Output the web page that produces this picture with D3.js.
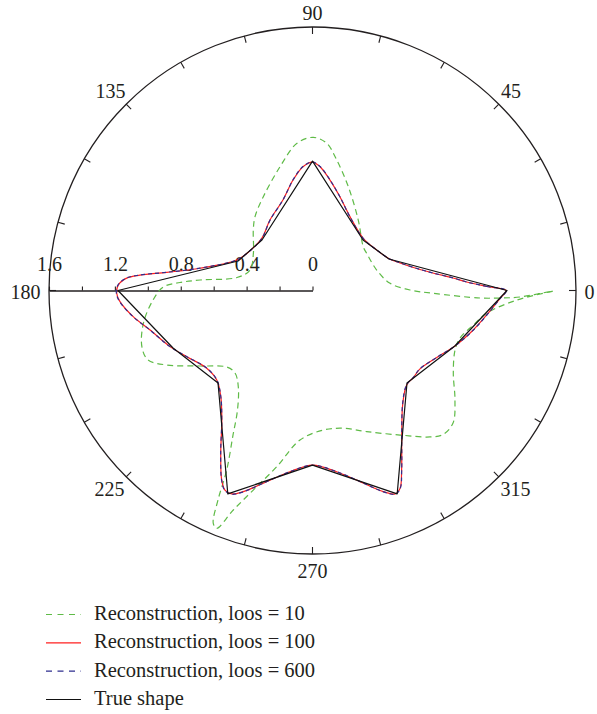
<!DOCTYPE html>
<html>
<head>
<meta charset="utf-8">
<script src="https://cdn.jsdelivr.net/npm/d3@7"></script>
<style>
  html, body { margin: 0; padding: 0; background: #fff; }
  svg { display: block; }
  text { font-family: "Liberation Serif", "DejaVu Serif", serif; fill: #231f20; }
</style>
</head>
<body>
<svg id="chart" width="597" height="714"></svg>
<script>
// ---------- data ----------
const angleTicks = d3.range(0, 360, 15);
const angleLabels = [0, 45, 90, 135, 180, 225, 270, 315];
const radialTicks = [0, 0.2, 0.4, 0.6, 0.8, 1.0, 1.2, 1.4, 1.6];
const radialLabels = [0, 0.4, 0.8, 1.2, 1.6];
const radialMax = 1.6;

const legendLabels = [
  "Reconstruction, loos = 10",
  "Reconstruction, loos = 100",
  "Reconstruction, loos = 600",
  "True shape"
];

// True shape (polygon), angle in degrees, radius
const trueTheta = [0, 22.4, 45, 90, 135, 158.4, 180, 202.4, 224.4, 247.4, 270, 292.6, 315.6, 338.7];
const trueR     = [1.181, 0.502, 0.434, 0.786, 0.434, 0.486, 1.181, 0.916, 0.803, 1.338, 1.060, 1.338, 0.803, 0.928];

// Reconstruction, loos = 100
const rec100Theta = [0, 1.32, 3.16, 5.08, 8.26, 11.05, 17.45, 22.8, 32.9, 45.8, 63.1, 73.7, 81.0, 86.5, 90, 94.4, 100.0, 108.1, 121.1, 134.2, 148.5, 158.1, 168.8, 172.9, 174.9, 176.2, 178.4, 180.8, 183.3, 188.3, 193.7, 201.5, 207.8, 216.3, 223.1, 229.2, 235.0, 240.6, 244.4, 246.3, 248.3, 251.0, 256.5, 262.9, 270, 277.6, 284.0, 289.4, 292.1, 293.9, 296.4, 301.4, 308.7, 314.9, 319.2, 323.9, 331.7, 338.7, 346.2, 352.0, 357.6];
const rec100R     = [1.175, 1.058, 0.938, 0.857, 0.739, 0.665, 0.557, 0.502, 0.459, 0.442, 0.503, 0.593, 0.679, 0.753, 0.780, 0.754, 0.681, 0.578, 0.500, 0.442, 0.452, 0.496, 0.696, 0.892, 1.052, 1.131, 1.180, 1.189, 1.171, 1.100, 1.015, 0.930, 0.863, 0.797, 0.796, 0.852, 0.960, 1.135, 1.276, 1.323, 1.329, 1.292, 1.194, 1.109, 1.060, 1.110, 1.196, 1.295, 1.333, 1.313, 1.217, 1.040, 0.877, 0.810, 0.809, 0.808, 0.857, 0.928, 1.005, 1.068, 1.140];

// Reconstruction, loos = 600
const rec600Theta = [0, 1.32, 3.16, 5.08, 8.26, 11.05, 17.45, 22.8, 32.9, 45.8, 63.1, 73.7, 81.0, 86.5, 90, 94.4, 100.0, 108.1, 121.1, 134.2, 148.5, 158.1, 168.8, 172.9, 174.9, 176.2, 178.4, 180.8, 183.3, 188.3, 193.7, 201.5, 207.8, 216.3, 223.1, 229.2, 235.0, 240.6, 244.4, 246.3, 248.3, 251.0, 256.5, 262.9, 270, 277.6, 284.0, 289.4, 292.1, 293.9, 296.4, 301.4, 308.7, 314.9, 319.2, 323.9, 331.7, 338.7, 346.2, 352.0, 357.6];
const rec600R     = [1.177, 1.059, 0.939, 0.858, 0.740, 0.666, 0.558, 0.503, 0.459, 0.441, 0.502, 0.593, 0.680, 0.754, 0.781, 0.755, 0.682, 0.578, 0.499, 0.441, 0.452, 0.497, 0.698, 0.894, 1.054, 1.133, 1.182, 1.191, 1.173, 1.101, 1.015, 0.930, 0.862, 0.796, 0.795, 0.852, 0.961, 1.136, 1.277, 1.325, 1.331, 1.293, 1.194, 1.109, 1.061, 1.110, 1.196, 1.296, 1.335, 1.315, 1.218, 1.040, 0.876, 0.809, 0.808, 0.807, 0.857, 0.928, 1.006, 1.069, 1.141];

// Reconstruction, loos = 10 (traversal order)
const rec10Theta = [359.88, 358.2, 357.7, 357.44, 358.67, 0.29, 5.3, 17.7, 34.46, 40.77, 56.99, 70.97, 79.49, 84.49, 89.7, 96.01, 104.71, 117.68, 127.92, 134.37, 147.85, 161.84, 170.23, 174.67, 176.54, 178.66, 183.41, 190.97, 198.34, 202.9, 207.11, 213.86, 221.82, 226.79, 232.44, 237.89, 241.18, 244.45, 245.72, 246.92, 248.06, 250.16, 253.47, 258.52, 265.22, 274.43, 282.6, 290.99, 301.2, 308.73, 312.19, 316.68, 322.46, 329.63, 337.33, 342.15, 347.89, 352.65, 357.34];
const rec10R     = [1.460, 1.260, 1.139, 1.018, 0.732, 0.592, 0.473, 0.409, 0.399, 0.407, 0.510, 0.667, 0.806, 0.898, 0.930, 0.899, 0.777, 0.643, 0.568, 0.514, 0.424, 0.399, 0.465, 0.686, 0.806, 0.906, 0.970, 1.046, 1.091, 1.084, 0.993, 0.823, 0.697, 0.687, 0.739, 0.857, 1.001, 1.208, 1.395, 1.537, 1.557, 1.417, 1.264, 1.092, 0.911, 0.850, 0.857, 0.918, 1.026, 1.140, 1.180, 1.173, 1.091, 0.991, 0.938, 0.941, 0.999, 1.068, 1.243];

// ---------- layout ----------
const cx = 312.5, cy = 290.5, R = 263.5;
const svg = d3.select("#chart");
const g = svg.append("g").attr("transform", `translate(${cx},${cy})`);

const r = d3.scaleLinear().domain([0, radialMax]).range([0, R]);
// math angle (deg, CCW from +x) -> d3 radial angle (rad, CW from 12 o'clock)
const a = d3.scaleLinear().domain([0, 360]).range([Math.PI / 2, Math.PI / 2 - 2 * Math.PI]);
const toXY = (deg, rad) => {
  const t = deg * Math.PI / 180;
  return [rad * Math.cos(t), -rad * Math.sin(t)];
};

const axisColor = "#231f20";

// outer circle
g.append("circle").attr("r", R).attr("fill", "none").attr("stroke", axisColor).attr("stroke-width", 1.3);

// angular ticks (inward)
g.selectAll("line.atick").data(angleTicks).join("line")
  .attr("class", "atick")
  .attr("x1", d => toXY(d, R)[0]).attr("y1", d => toXY(d, R)[1])
  .attr("x2", d => toXY(d, R - 7)[0]).attr("y2", d => toXY(d, R - 7)[1])
  .attr("stroke", axisColor).attr("stroke-width", 1.1);

// angular labels
const r0 = R + 8.5, hh = 7;
g.selectAll("text.alabel").data(angleLabels).join("text")
  .attr("class", "alabel")
  .attr("font-size", 20)
  .attr("text-anchor", "middle")
  .attr("dominant-baseline", "central")
  .text(d => d)
  .each(function(d) {
    const w = this.getComputedTextLength() / 2;
    const t = d * Math.PI / 180;
    const [x, y] = toXY(d, r0);
    const upperDiag = Math.sin(t) > 0.1 && Math.abs(Math.cos(t)) > 0.1 ? 3.5 : 0;
    d3.select(this)
      .attr("x", x + w * Math.cos(t) - (upperDiag ? Math.sign(Math.cos(t)) * 1 : 0))
      .attr("y", y - hh * Math.sin(t) + 1 - upperDiag);
  });

// radial axis along 180 degrees
const rAxisScale = d3.scaleLinear().domain([0, radialMax]).range([0, -R]);
const rAxis = d3.axisTop(rAxisScale)
  .tickValues(radialTicks)
  .tickSize(4)
  .tickSizeOuter(0)
  .tickPadding(16)
  .tickFormat(d => radialLabels.some(v => Math.abs(v - d) < 1e-9) ? d3.format("")(+d.toFixed(1)) : "");
const ax = g.append("g").call(rAxis);
ax.select(".domain").attr("stroke", axisColor).attr("stroke-width", 1.3);
ax.selectAll(".tick line").attr("stroke", axisColor).attr("stroke-width", 1.1);
ax.selectAll(".tick text")
  .attr("font-family", '"Liberation Serif", "DejaVu Serif", serif')
  .attr("font-size", 20).attr("fill", axisColor);

// ---------- series ----------
const radialLine = (curve) => d3.lineRadial()
  .angle(d => a(d[0]))
  .radius(d => r(d[1]))
  .curve(curve);

const zip = (th, rr) => th.map((t, i) => [t, rr[i]]);

const series = [
  { data: zip(rec10Theta, rec10R), color: "#5fbb47", dash: "6,4", width: 1.2, curve: d3.curveCatmullRomClosed.alpha(0.5) },
  { data: zip(rec100Theta, rec100R), color: "#ff1f1f", dash: null, width: 1.2, curve: d3.curveCatmullRomClosed.alpha(0.5) },
  { data: zip(rec600Theta, rec600R), color: "#2e2e8f", dash: "4,3", width: 1.2, curve: d3.curveCatmullRomClosed.alpha(0.5) },
  { data: zip(trueTheta, trueR), color: "#111111", dash: null, width: 1.2, curve: d3.curveLinearClosed }
];

g.selectAll("path.series").data(series).join("path")
  .attr("class", "series")
  .attr("d", d => radialLine(d.curve)(d.data))
  .attr("fill", "none")
  .attr("stroke", d => d.color)
  .attr("stroke-width", d => d.width)
  .attr("stroke-dasharray", d => d.dash)
  .attr("stroke-linejoin", "round");

// ---------- legend ----------
const legY = d3.scaleLinear().domain([0, legendLabels.length - 1]).range([614.5, 699.5]);
const leg = svg.append("g");
const items = leg.selectAll("g").data(legendLabels).join("g")
  .attr("transform", (d, i) => `translate(0,${legY(i)})`);
items.append("line")
  .attr("x1", 46).attr("x2", 81).attr("y1", 0).attr("y2", 0)
  .attr("stroke", (d, i) => series[i].color)
  .attr("stroke-width", 1.2)
  .attr("stroke-dasharray", (d, i) => series[i].dash ? "6,5.5" : null);
items.append("text")
  .attr("x", 94).attr("y", 5.5)
  .attr("font-size", 20.5)
  .text(d => d);
</script>
</body>
</html>
